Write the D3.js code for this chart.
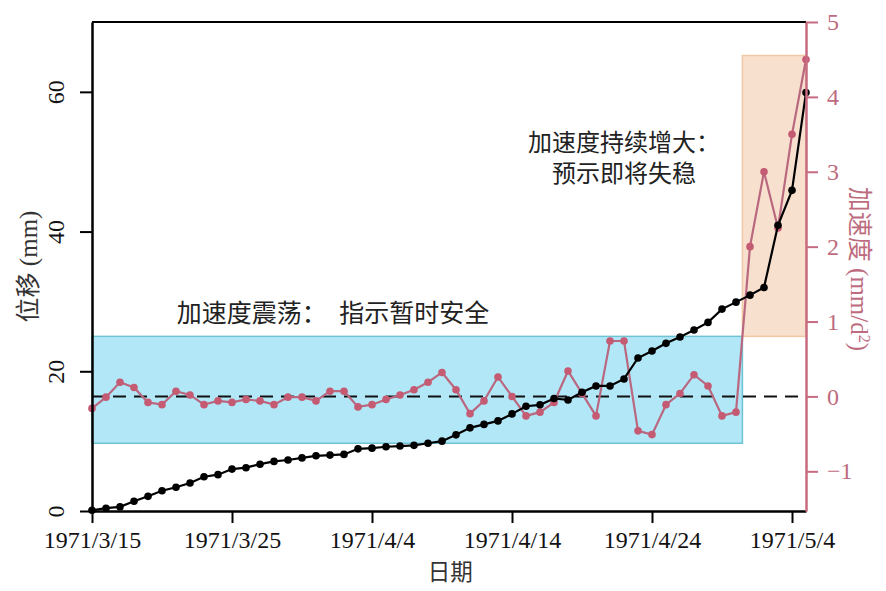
<!DOCTYPE html>
<html>
<head>
<meta charset="utf-8">
<script src="https://cdn.jsdelivr.net/npm/d3@7"></script>
<style>
  html, body { margin: 0; padding: 0; background: #fff; }
  svg { display: block; }
  text { font-family: "Liberation Serif", "Noto Sans CJK SC", serif; }
</style>
</head>
<body>
<div id="chart"></div>
<script>
// 位移 + 加速度 双轴图
const dates = [
  '1971-03-15','1971-03-16','1971-03-17','1971-03-18','1971-03-19','1971-03-20','1971-03-21',
  '1971-03-22','1971-03-23','1971-03-24','1971-03-25','1971-03-26','1971-03-27','1971-03-28',
  '1971-03-29','1971-03-30','1971-03-31','1971-04-01','1971-04-02','1971-04-03','1971-04-04',
  '1971-04-05','1971-04-06','1971-04-07','1971-04-08','1971-04-09','1971-04-10','1971-04-11',
  '1971-04-12','1971-04-13','1971-04-14','1971-04-15','1971-04-16','1971-04-17','1971-04-18',
  '1971-04-19','1971-04-20','1971-04-21','1971-04-22','1971-04-23','1971-04-24','1971-04-25',
  '1971-04-26','1971-04-27','1971-04-28','1971-04-29','1971-04-30','1971-05-01','1971-05-02',
  '1971-05-03','1971-05-04','1971-05-05'
];

// 位移 (mm)
const displacement = [
  0.1, 0.4, 0.6, 1.4, 2.1, 2.9, 3.4, 4.0, 4.9, 5.2, 6.0, 6.2, 6.7, 7.1, 7.3, 7.6, 7.9,
  8.0, 8.1, 8.9, 9.0, 9.2, 9.3, 9.4, 9.7, 10.0, 10.9, 11.9, 12.4, 12.9, 13.9, 15.0, 15.2,
  16.1, 15.9, 17.0, 17.9, 17.9, 18.9, 21.9, 22.9, 24.0, 24.9, 25.9, 27.0, 28.9, 29.9,
  30.9, 32.0, 40.9, 45.9, 59.9
];

// 加速度 (mm/d^2)
const acceleration = [
  -0.16, -0.01, 0.19, 0.12, -0.08, -0.11, 0.07, 0.02, -0.11, -0.06, -0.08, -0.04, -0.06,
  -0.11, -0.01, -0.01, -0.06, 0.07, 0.07, -0.14, -0.11, -0.04, 0.02, 0.09, 0.19, 0.32,
  0.09, -0.23, -0.06, 0.26, 0.0, -0.26, -0.21, -0.08, 0.34, 0.04, -0.26, 0.74, 0.74,
  -0.46, -0.51, -0.11, 0.04, 0.29, 0.14, -0.26, -0.21, 2.0, 3.0, 2.25, 3.5, 4.5
];

const xTicks = ['1971-03-15','1971-03-25','1971-04-04','1971-04-14','1971-04-24','1971-05-04'];
const xTickLabels = ['1971/3/15','1971/3/25','1971/4/4','1971/4/14','1971/4/24','1971/5/4'];
const leftTicks = [0, 20, 40, 60];
const rightTicks = [-1, 0, 1, 2, 3, 4, 5];

// shaded regions: [start date, end date, bottom mm, top mm]
const calmBox = ['1971-03-15T00:00', '1971-04-30T11:00', 9.7, 25.0];
const riseBox = ['1971-04-30T11:00', '1971-05-05T00:00', 25.0, 65.2];

const notes = [
  { lines: ['加速度震荡：  指示暂时安全'], date: '1971-04-01T05:00', mm: 27.0 },
  { lines: ['加速度持续增大：', '预示即将失稳'], date: '1971-04-22T00:00', mm: 51.5 }
];

const W = 886, H = 591;
const m = { top: 22, right: 80, bottom: 80, left: 92 };
const pw = 806 - m.left, ph = 511 - m.top;

const parse = s => new Date(s);
const pinkLine = '#b9687f', pinkDot = '#c45b73', pinkAxis = '#c76b80', pinkText = '#bd6b7e';

const svg = d3.select('#chart').append('svg')
  .attr('width', W).attr('height', H);

const g = svg.append('g').attr('transform', `translate(${m.left},${m.top})`);

const x = d3.scaleTime()
  .domain([parse('1971-03-15'), parse('1971-05-05')])
  .range([0, pw]);
const yL = d3.scaleLinear().domain([0, 70]).range([ph, 0]);
const yR = d3.scaleLinear().domain([-1.53, 5]).range([ph, 0]);

// Regions
[[calmBox, '#b2e7f8', '#6fc4d3'], [riseBox, '#f8e0cf', '#f2c7a2']].forEach(([b, fill, stroke]) => {
  g.append('rect')
    .attr('x', x(parse(b[0])))
    .attr('y', yL(b[3]))
    .attr('width', x(parse(b[1])) - x(parse(b[0])))
    .attr('height', yL(b[2]) - yL(b[3]))
    .attr('fill', fill)
    .attr('stroke', stroke)
    .attr('stroke-width', 1.5);
});

// zero line of acceleration
g.append('line')
  .attr('x1', 0).attr('x2', pw)
  .attr('y1', yR(0)).attr('y2', yR(0))
  .attr('stroke', '#111')
  .attr('stroke-width', 2)
  .attr('stroke-dasharray', '13,8');

const pts = dates.map((d, i) => ({ t: parse(d), disp: displacement[i], acc: acceleration[i] }));

// Acceleration series
g.append('path')
  .datum(pts)
  .attr('fill', 'none')
  .attr('stroke', pinkLine)
  .attr('stroke-width', 2.2)
  .attr('d', d3.line().x(d => x(d.t)).y(d => yR(d.acc)));

g.append('g')
  .selectAll('circle')
  .data(pts)
  .join('circle')
  .attr('cx', d => x(d.t))
  .attr('cy', d => yR(d.acc))
  .attr('r', 3.8)
  .attr('fill', pinkDot);

// Displacement series
g.append('path')
  .datum(pts)
  .attr('fill', 'none')
  .attr('stroke', '#000')
  .attr('stroke-width', 2.2)
  .attr('d', d3.line().x(d => x(d.t)).y(d => yL(d.disp)));

g.append('g')
  .selectAll('circle')
  .data(pts)
  .join('circle')
  .attr('cx', d => x(d.t))
  .attr('cy', d => yL(d.disp))
  .attr('r', 3.8)
  .attr('fill', '#000');

// Frame top + axes
g.append('line')
  .attr('x1', 0).attr('x2', pw).attr('y1', 0).attr('y2', 0)
  .attr('stroke', '#000').attr('stroke-width', 2);

const xAxis = g.append('g')
  .attr('transform', `translate(0,${ph})`)
  .call(d3.axisBottom(x)
    .tickValues(xTicks.map(parse))
    .tickFormat((d, i) => xTickLabels[i])
    .tickSize(12).tickSizeOuter(0).tickPadding(8));
xAxis.select('.domain').attr('stroke-width', 2.5);
xAxis.selectAll('.tick line').attr('stroke-width', 2);
xAxis.selectAll('text').attr('font-size', 24).attr('fill', '#111');

const yAxisL = g.append('g')
  .call(d3.axisLeft(yL).tickValues(leftTicks).tickSize(12).tickSizeOuter(0));
yAxisL.select('.domain').attr('stroke-width', 2.5);
yAxisL.selectAll('.tick line').attr('stroke-width', 2);
yAxisL.selectAll('text')
  .attr('font-size', 24)
  .attr('fill', '#111')
  .attr('text-anchor', 'middle')
  .attr('dy', 0)
  .attr('x', 0)
  .attr('transform', 'translate(-28,0) rotate(-90)');

const yAxisR = g.append('g')
  .attr('transform', `translate(${pw},0)`)
  .call(d3.axisRight(yR).tickValues(rightTicks).tickFormat(d3.format('d'))
    .tickSize(12).tickSizeOuter(0).tickPadding(9));
yAxisR.select('.domain').attr('stroke', pinkAxis).attr('stroke-width', 2.5);
yAxisR.selectAll('.tick line').attr('stroke', pinkAxis).attr('stroke-width', 2);
yAxisR.selectAll('text').attr('font-size', 24).attr('fill', pinkText);

// Axis titles
svg.append('text')
  .attr('transform', `translate(37,${m.top + ph * 0.5}) rotate(-90)`)
  .attr('text-anchor', 'middle')
  .attr('font-size', 25)
  .attr('fill', '#333')
  .text('位移 (mm)');

const rTitle = svg.append('text')
  .attr('transform', `translate(851,${m.top + ph * 0.505}) rotate(90)`)
  .attr('text-anchor', 'middle')
  .attr('font-size', 25)
  .attr('fill', pinkText);
rTitle.append('tspan').text('加速度 (mm/d');
rTitle.append('tspan').attr('baseline-shift', 'super').attr('font-size', 16).text('2');
rTitle.append('tspan').text(')');

svg.append('text')
  .attr('x', m.left + x(parse('1971-04-09T14:00')))
  .attr('y', 580)
  .attr('text-anchor', 'middle')
  .attr('font-size', 22.5)
  .attr('fill', '#333')
  .text('日期');

// Annotations
notes.forEach(n => {
  const t = g.append('text')
    .attr('x', x(parse(n.date)))
    .attr('y', yL(n.mm))
    .attr('text-anchor', 'middle')
    .attr('font-size', n.lines.length > 1 ? 24 : 25)
    .attr('fill', '#222')
    .style('white-space', 'pre');
  n.lines.forEach((l, i) => {
    t.append('tspan')
      .attr('x', x(parse(n.date)))
      .attr('dy', i === 0 ? 0 : 31)
      .text(l);
  });
});
</script>
</body>
</html>
